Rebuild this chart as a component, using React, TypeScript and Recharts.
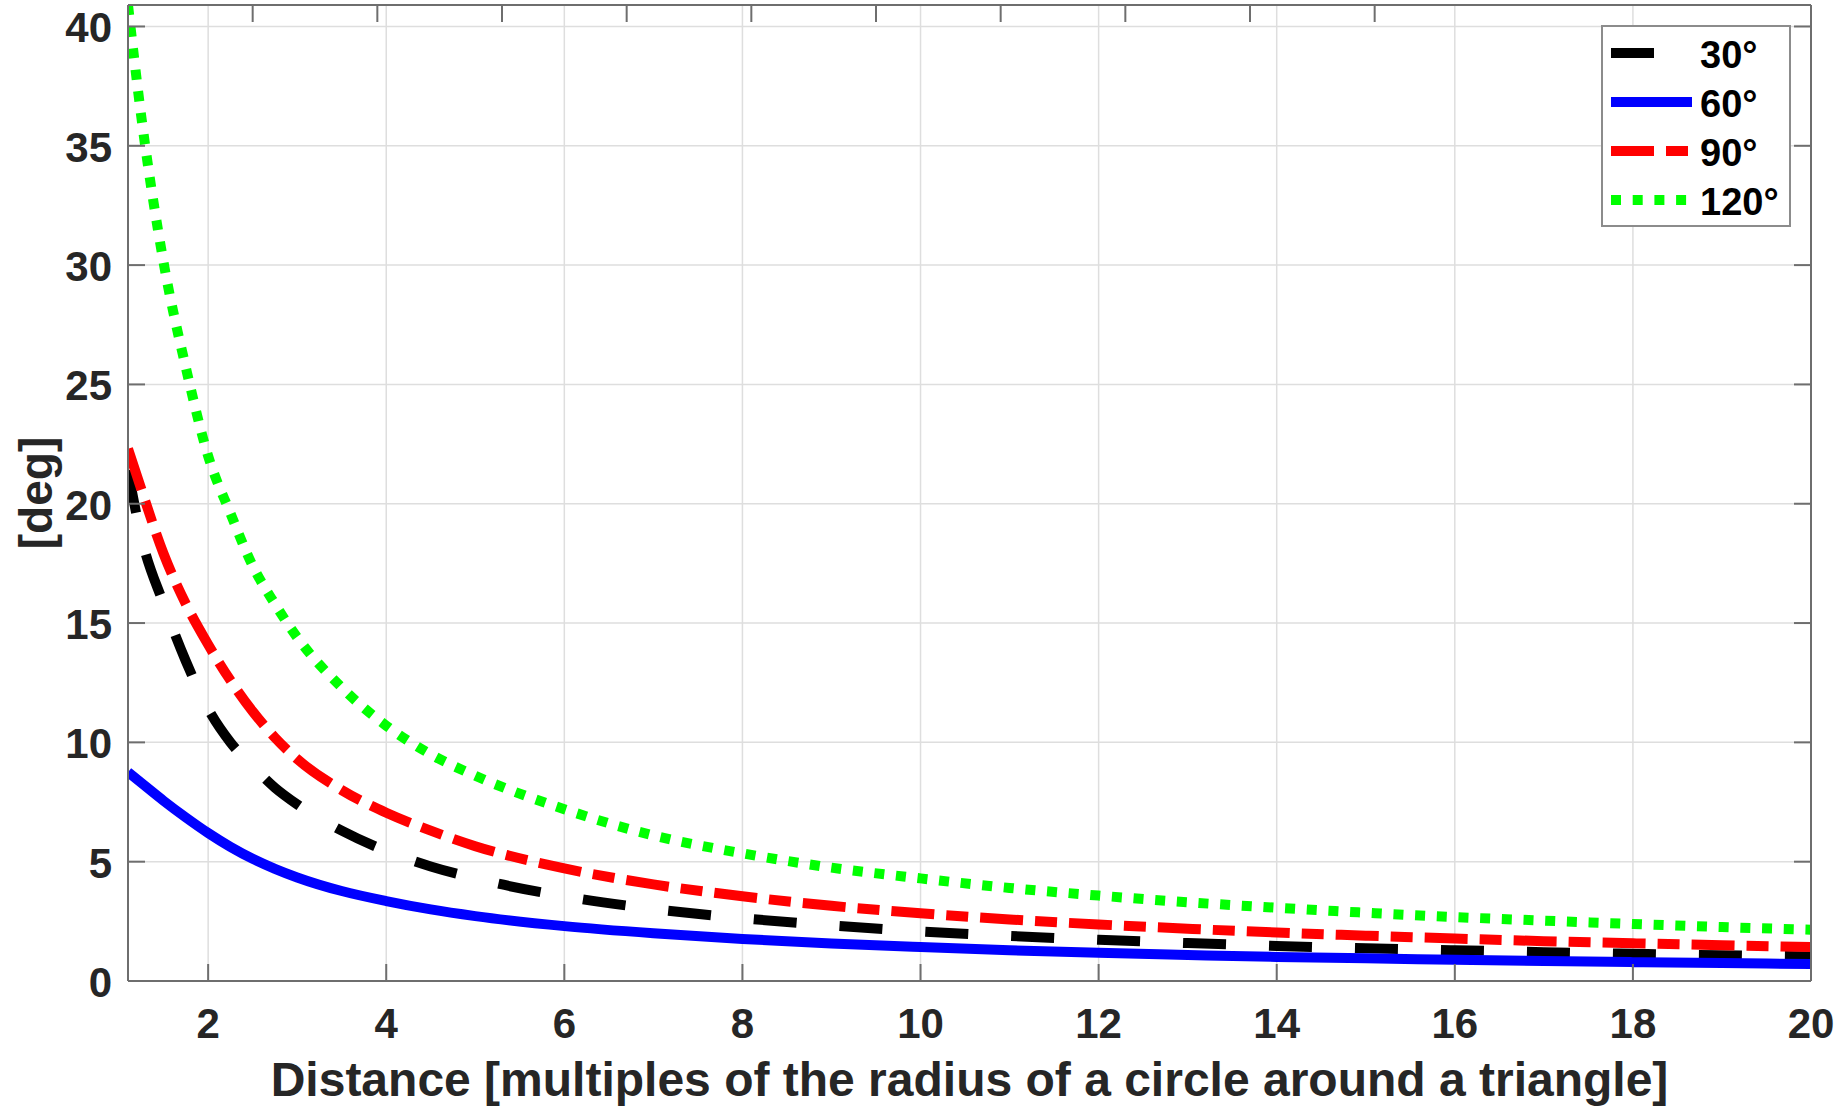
import React from "react";
import { LineChart, Line, XAxis, YAxis, CartesianGrid, Legend } from "recharts";

// distance in multiples of the circumradius
const distance = [
  1.1, 1.25, 1.5, 1.75, 2, 2.25, 2.5, 2.75, 3, 3.5, 4, 4.5, 5, 6, 7, 8, 9, 10,
  11, 12, 13, 14, 15, 16, 17, 18, 19, 20,
];

// [deg] for each triangle angle
const deg30 = [
  21.4, 18.6, 15.8, 13.4, 11.4, 10.0, 9.0, 8.1, 7.4, 6.3, 5.45, 4.8, 4.3, 3.55,
  3.02, 2.63, 2.33, 2.08, 1.89, 1.73, 1.59, 1.47, 1.37, 1.29, 1.21, 1.14, 1.08,
  1.03,
];
const deg60 = [
  8.75, 8.3, 7.55, 6.85, 6.2, 5.62, 5.12, 4.7, 4.34, 3.77, 3.35, 3.0, 2.72, 2.3,
  2.0, 1.76, 1.57, 1.42, 1.29, 1.18, 1.09, 1.01, 0.95, 0.89, 0.84, 0.79, 0.75,
  0.71,
];
const deg90 = [
  22.3, 20.6, 17.9, 15.8, 14.1, 12.6, 11.3, 10.2, 9.3, 8.0, 7.05, 6.3, 5.65,
  4.72, 4.05, 3.55, 3.15, 2.84, 2.58, 2.37, 2.19, 2.03, 1.9, 1.78, 1.67, 1.58,
  1.5, 1.42,
];
const deg120 = [
  40.9, 36.2, 30.1, 25.7, 22.0, 19.6, 17.4, 15.8, 14.4, 12.3, 10.7, 9.5, 8.6,
  7.2, 6.1, 5.35, 4.75, 4.3, 3.9, 3.58, 3.3, 3.07, 2.86, 2.68, 2.53, 2.39, 2.26,
  2.15,
];

const xTicks = [2, 4, 6, 8, 10, 12, 14, 16, 18, 20];
const yTicks = [0, 5, 10, 15, 20, 25, 30, 35, 40];
const X_DOMAIN: [number, number] = [1.1, 20];
const Y_DOMAIN: [number, number] = [0, 40.9];

const series = [
  { key: "d30", name: "30°", color: "#000000", dash: "43 43", values: deg30 },
  { key: "d60", name: "60°", color: "#0000ff", dash: undefined, values: deg60 },
  { key: "d90", name: "90°", color: "#ff0000", dash: "43 12 22 12", values: deg90 },
  { key: "d120", name: "120°", color: "#00ff00", dash: "10 11.7", values: deg120 },
];

const data = distance.map((x, i) => {
  const row: Record<string, number> = { x };
  series.forEach((s) => (row[s.key] = s.values[i]));
  return row;
});

const FONT = '"Liberation Sans", Arial, Helvetica, sans-serif';
const TEXT = "#262626";
const AXIS = "#6e6e6e";
const TICK_LEN = 17;

// MATLAB style: tick marks point into the plot box
function BottomTick({ x, y, payload }: any) {
  return (
    <g>
      <line x1={x} x2={x} y1={y} y2={y - TICK_LEN} stroke={AXIS} strokeWidth={2} />
      <text x={x} y={y + 57} textAnchor="middle" fontSize={42} fontWeight="bold" fill={TEXT} fontFamily={FONT}>
        {payload.value}
      </text>
    </g>
  );
}

function LeftTick({ x, y, payload }: any) {
  return (
    <g>
      <line x1={x} x2={x + TICK_LEN} y1={y} y2={y} stroke={AXIS} strokeWidth={2} />
      <text x={x - 16} y={y + 16} textAnchor="end" fontSize={42} fontWeight="bold" fill={TEXT} fontFamily={FONT}>
        {payload.value}
      </text>
    </g>
  );
}

function TopTick({ x, y }: any) {
  return <line x1={x} x2={x} y1={y} y2={y + TICK_LEN} stroke={AXIS} strokeWidth={2} />;
}

function RightTick({ x, y }: any) {
  return <line x1={x} x2={x - TICK_LEN} y1={y} y2={y} stroke={AXIS} strokeWidth={2} />;
}

function XLabel({ viewBox }: any) {
  const cx = viewBox.x + viewBox.width / 2;
  return (
    <text x={cx} y={viewBox.y + 115} textAnchor="middle" fontSize={48} fontWeight="bold" fill={TEXT} fontFamily={FONT}>
      Distance [multiples of the radius of a circle around a triangle]
    </text>
  );
}

function YLabel({ viewBox }: any) {
  const cx = viewBox.x + 36;
  const cy = viewBox.y + viewBox.height / 2;
  return (
    <text
      x={cx}
      y={cy}
      transform={`rotate(-90 ${cx} ${cy})`}
      textAnchor="middle"
      dominantBaseline="central"
      fontSize={46}
      fontWeight="bold"
      fill={TEXT}
      fontFamily={FONT}
    >
      [deg]
    </text>
  );
}

// legend keeps the plotting order of the series
function LegendBox({ payload }: any) {
  const shown = new Set((payload || []).map((p: any) => p.dataKey));
  const items = series.filter((s) => shown.size === 0 || shown.has(s.key));
  return (
    <svg width={190} height={202} style={{ display: "block" }}>
      <rect x={1} y={1} width={188} height={200} fill="#ffffff" stroke="#8c8c8c" strokeWidth={2} />
      {items.map((s, i) => {
        const cy = 28 + i * 49;
        return (
          <g key={s.key}>
            <line x1={10} x2={91} y1={cy} y2={cy} stroke={s.color} strokeWidth={10} strokeDasharray={s.dash} />
            <text x={99} y={cy + 15} fontSize={38} fontWeight="bold" fill="#000" fontFamily={FONT}>
              {s.name}
            </text>
          </g>
        );
      })}
    </svg>
  );
}

export default function App() {
  return (
    <div style={{ position: "absolute", left: 0, top: 0, width: 1841, height: 1107, background: "#fff" }}>
      <LineChart width={1841} height={1107} data={data} margin={{ top: 0, right: 0, bottom: 0, left: 0 }}>
        <CartesianGrid stroke="#dedede" strokeWidth={1.5} />
        <XAxis
          dataKey="x"
          type="number"
          domain={X_DOMAIN}
          ticks={xTicks}
          interval={0}
          height={126}
          tickSize={0}
          tickMargin={0}
          tickLine={false}
          axisLine={{ stroke: AXIS, strokeWidth: 2 }}
          tick={<BottomTick />}
          label={<XLabel />}
          allowDataOverflow
        />
        <XAxis
          xAxisId="top"
          orientation="top"
          type="number"
          domain={X_DOMAIN}
          ticks={xTicks}
          interval={0}
          height={5}
          tickSize={0}
          tickMargin={0}
          tickLine={false}
          axisLine={{ stroke: AXIS, strokeWidth: 2 }}
          tick={<TopTick />}
          allowDataOverflow
        />
        <YAxis
          type="number"
          domain={Y_DOMAIN}
          ticks={yTicks}
          interval={0}
          width={128}
          tickSize={0}
          tickMargin={0}
          tickLine={false}
          axisLine={{ stroke: AXIS, strokeWidth: 2 }}
          tick={<LeftTick />}
          label={<YLabel />}
          allowDataOverflow
        />
        <YAxis
          yAxisId="right"
          orientation="right"
          type="number"
          domain={Y_DOMAIN}
          ticks={yTicks}
          interval={0}
          width={30}
          tickSize={0}
          tickMargin={0}
          tickLine={false}
          axisLine={{ stroke: AXIS, strokeWidth: 2 }}
          tick={<RightTick />}
          allowDataOverflow
        />
        {series.map((s) => (
          <Line
            key={s.key}
            dataKey={s.key}
            name={s.name}
            type="monotone"
            stroke={s.color}
            strokeWidth={10}
            strokeDasharray={s.dash}
            strokeLinecap="butt"
            dot={false}
            activeDot={false}
            isAnimationActive={false}
          />
        ))}
        <Legend
          layout="horizontal"
          verticalAlign="middle"
          align="center"
          content={<LegendBox />}
          wrapperStyle={{ left: 1601, top: 25, width: 190, height: 202 }}
        />
      </LineChart>
    </div>
  );
}
